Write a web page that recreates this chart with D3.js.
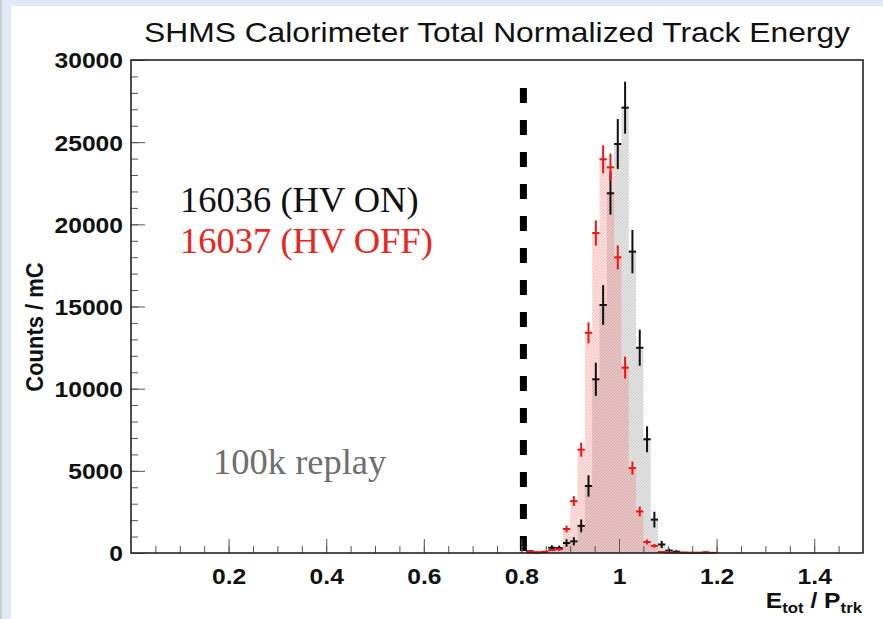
<!DOCTYPE html>
<html><head><meta charset="utf-8">
<script src="https://cdn.jsdelivr.net/npm/d3@7"></script>
<style>body{margin:0;background:#e2e9f4;} svg{display:block}</style>
</head><body><svg id="c" width="883" height="619"></svg>
<script>
// ---------------- data ----------------
const binCenters = [0.8175,0.8325,0.8475,0.8625,0.8775,0.8925,0.9075,0.9225,0.9375,0.9525,0.9675,0.9825,0.9975,1.0125,1.0275,1.0425,1.0575,1.0725,1.0875,1.1025,1.1175,1.1325,1.1475,1.1625,1.1775,1.1925];
const binWidth = 0.015;
const hvOn     = [60,20,60,320,300,610,710,1650,4080,10570,15090,21890,24890,27100,18340,12490,6920,2030,520,150,80,20,10,10,30,0];
const hvOnErr  = [60,40,60,150,150,230,250,390,650,1010,1210,1300,1520,1580,1320,1100,790,480,220,120,90,40,30,30,60,0];
const hvOff    = [120,40,80,180,230,1460,3160,6290,13400,19470,23960,23470,17990,11280,5170,2530,670,435,60,30,20,15,10,10,15,10];
const hvOffErr = [40,30,40,60,70,210,300,430,640,770,850,830,730,670,400,300,150,110,40,30,30,20,20,20,20,20];
const xTicks = [0.2,0.4,0.6,0.8,1.0,1.2,1.4];
const xTickLabels = ["0.2","0.4","0.6","0.8","1","1.2","1.4"];
const xMinorTicks = d3.range(1,30).map(i => +(i*0.05).toFixed(2));
const yTicks = [0,5000,10000,15000,20000,25000,30000];
const yMinorTicks = d3.range(0,31).map(i => i*1000);
const cutValue = 0.8;
const cutTop = 28300;
const titleText = "SHMS Calorimeter Total Normalized Track Energy";
const legendOn = "16036 (HV ON)";
const legendOff = "16037 (HV OFF)";
const noteText = "100k replay";

// ---------------- drawing ----------------
const svg = d3.select("#c");
const W = 883, H = 619;
const SX = 1.12; // horizontal stretch of the original ROOT canvas

svg.append("rect").attr("width",W).attr("height",H).attr("fill","#e2e9f4");
svg.append("rect").attr("x",0).attr("y",0).attr("width",2).attr("height",H).attr("fill","#c9ced6");
svg.append("rect").attr("x",11).attr("y",6).attr("width",W-11).attr("height",H-6).attr("fill","#ffffff");

const x = d3.scaleLinear().domain([0,1.5]).range([131,863]);
const y = d3.scaleLinear().domain([0,30000]).range([553,60]);

const defs = svg.append("defs");
function hatch(id, bg, line, lw){
  const p = defs.append("pattern").attr("id",id).attr("patternUnits","userSpaceOnUse")
    .attr("width",3).attr("height",3);
  if (bg) p.append("rect").attr("width",3).attr("height",3).attr("fill",bg);
  p.append("path").attr("d","M-1,1 l2,-2 M0,3 l3,-3 M2,4 l2,-2").attr("stroke",line).attr("stroke-width",lw);
}
hatch("hGray","#e4e4e4","#c2c2c2",0.7);
hatch("hRed","rgba(240,110,100,0.22)","rgba(235,90,90,0.28)",0.7);

function stepData(vals){
  const pts = binCenters.map((c,i)=>({x:c-binWidth/2, v:vals[i]}));
  pts.push({x:binCenters[binCenters.length-1]+binWidth/2, v:vals[vals.length-1]});
  return pts;
}
const area = d3.area().x(d=>x(d.x)).y0(y(0)).y1(d=>y(d.v)).curve(d3.curveStepAfter);

svg.append("path").datum(stepData(hvOn)).attr("d",area).attr("fill","url(#hGray)");
svg.append("path").datum(stepData(hvOff)).attr("d",area).attr("fill","url(#hRed)");

function markers(vals, errs, color){
  const g = svg.append("g").attr("stroke",color).attr("stroke-width",2);
  binCenters.forEach((c,i)=>{
    if (vals[i] <= 0) return;
    g.append("line").attr("x1",x(c-binWidth/2)).attr("x2",x(c+binWidth/2))
      .attr("y1",y(vals[i])).attr("y2",y(vals[i]));
    g.append("line").attr("x1",x(c)).attr("x2",x(c))
      .attr("y1",y(Math.max(0,vals[i]-errs[i]))).attr("y2",y(vals[i]+errs[i]));
  });
}
markers(hvOn, hvOnErr, "#111");
markers(hvOff, hvOffErr, "#f01414");

// dashed cut line
svg.append("line").attr("x1",x(cutValue)+2).attr("x2",x(cutValue)+2)
  .attr("y1",y(cutTop)).attr("y2",y(0))
  .attr("stroke","#000").attr("stroke-width",7).attr("stroke-dasharray","15,17");

// axes
const yMajor = d3.axisLeft(y).tickValues(yTicks).tickSizeInner(-14).tickSizeOuter(0).tickPadding(8).tickFormat(d3.format("d"));
const yMinor = d3.axisLeft(y).tickValues(yMinorTicks).tickSizeInner(-7).tickSizeOuter(0).tickFormat("");
const xMajor = d3.axisBottom(x).tickValues(xTicks).tickSizeInner(-14).tickSizeOuter(0).tickPadding(15)
  .tickFormat((d,i)=>xTickLabels[i]);
const xMinor = d3.axisBottom(x).tickValues(xMinorTicks).tickSizeInner(-7).tickSizeOuter(0).tickFormat("");

const gym = svg.append("g").attr("transform","translate(131,0)").call(yMinor);
const gy = svg.append("g").attr("transform","translate(131,0)").call(yMajor);
const gxm = svg.append("g").attr("transform","translate(0,553)").call(xMinor);
const gx = svg.append("g").attr("transform","translate(0,553)").call(xMajor);
[gym,gy,gxm,gx].forEach(g=>{
  g.select(".domain").remove();
  g.selectAll(".tick line").attr("stroke","#555").attr("stroke-width",1);
});
[gy,gx].forEach(g=>{
  g.selectAll("text").attr("font-family","Liberation Sans, Arial, sans-serif")
    .attr("font-weight","bold").attr("font-size",22).attr("fill","#111")
    .each(function(){ const w=this.getComputedTextLength(); d3.select(this).attr("textLength",w*SX).attr("lengthAdjust","spacingAndGlyphs"); });
});
gy.selectAll("text").attr("dy","0.36em");

// frame
svg.append("rect").attr("x",x(0)).attr("y",y(30000)).attr("width",x(1.5)-x(0)).attr("height",y(0)-y(30000))
  .attr("fill","none").attr("stroke","#222").attr("stroke-width",1.6);

// title
const t = svg.append("text").attr("x",144).attr("y",42).attr("font-family","Liberation Sans, Arial, sans-serif")
  .attr("font-size",28).attr("fill","#111").text(titleText);
t.attr("textLength", 706).attr("lengthAdjust","spacingAndGlyphs");

// axis titles
const xt = svg.append("g").attr("transform",`translate(862,608) scale(${SX},1)`)
  .append("text").attr("text-anchor","end").attr("font-family","Liberation Sans, Arial, sans-serif")
  .attr("font-weight","bold").attr("font-size",22).attr("fill","#111");
xt.append("tspan").text("E");
xt.append("tspan").attr("font-size",15).attr("dy",5).text("tot");
xt.append("tspan").attr("dy",-5).text(" / P");
xt.append("tspan").attr("font-size",15).attr("dy",5).text("trk");

svg.append("g").attr("transform",`translate(43,327) scale(${SX},1) rotate(-90)`)
  .append("text").attr("text-anchor","middle").attr("font-family","Liberation Sans, Arial, sans-serif")
  .attr("font-weight","bold").attr("font-size",22).attr("fill","#111").text("Counts / mC");

// annotations
const serif = "Liberation Serif, Times New Roman, serif";
svg.append("text").attr("x",180).attr("y",212).attr("font-family",serif).attr("font-size",36.5).attr("fill","#111").text(legendOn);
svg.append("text").attr("x",180).attr("y",253).attr("font-family",serif).attr("font-size",36.5).attr("fill","#e8261c").text(legendOff);
svg.append("text").attr("x",213).attr("y",474).attr("font-family",serif).attr("font-size",36.5).attr("fill","#6e6e6e").text(noteText);
</script></body></html>
